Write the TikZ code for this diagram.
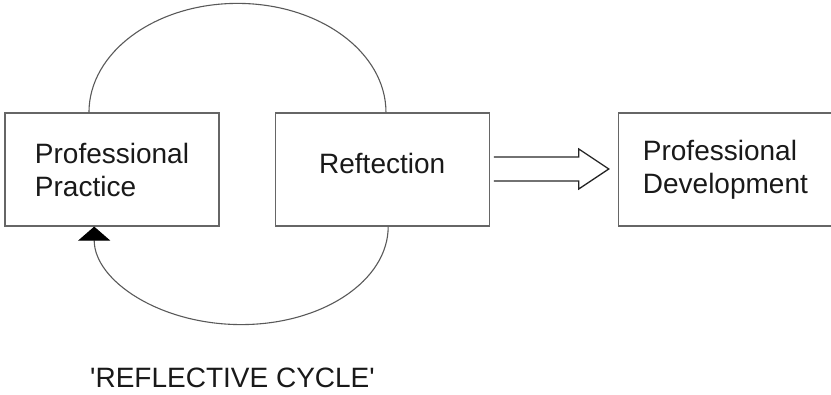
\documentclass[tikz,border=0pt]{standalone}
\usepackage{fontspec}
\setmainfont{Liberation Sans}
\usepackage{tikz}
\usetikzlibrary{arrows.meta,positioning,calc}

\begin{document}
\begin{tikzpicture}[x=1pt,y=1pt,
  box/.style={draw=black!60, line width=1.2pt, minimum width=214pt, minimum height=113pt,
    align=left, text=black!90, font=\fontsize{28}{33}\selectfont},
  loop/.style={draw=black!65, line width=1.1pt}]
\useasboundingbox (0,0) rectangle (831,395);

% the three boxes
\node[box] (practice) at (112,225.5) {Professional\\Practice};
\node[box, right=55pt of practice] (reflection) {\raisebox{12pt}{Reftection}};
\node[box, right=128pt of reflection] (development) {Professional\\Development};

% upper half of the cycle
\draw[loop] ($(practice.north west)!0.393!(practice.north east)$)
  arc[start angle=180, end angle=0, x radius=148.5, y radius=109];

% lower half of the cycle, back into practice
\draw[loop, -{Triangle[width=32pt,length=14pt,black]}] ($(reflection.south)+(6,0)$)
  arc[start angle=0, end angle=-180, x radius=147, y radius=98];

% open arrow to development
\coordinate (tail) at ($(reflection.east)+(4,0.5)$);
\coordinate (tip) at ($(development.west)+(-9,0.5)$);
\draw[line width=1.3pt, black!85, line join=miter]
  ($(tail)+(0,12)$) -- ($(tip)+(-30,12)$) -- ++(0,8) -- (tip)
  -- ($(tip)+(-30,-20)$) -- ++(0,8) -- ($(tail)+(0,-12)$);

% caption
\node[anchor=base, text=black!90, font=\fontsize{28}{33}\selectfont] (cycle) at (232.5,7)
  {\textquotesingle REFLECTIVE CYCLE\textquotesingle};
\end{tikzpicture}
\end{document}
